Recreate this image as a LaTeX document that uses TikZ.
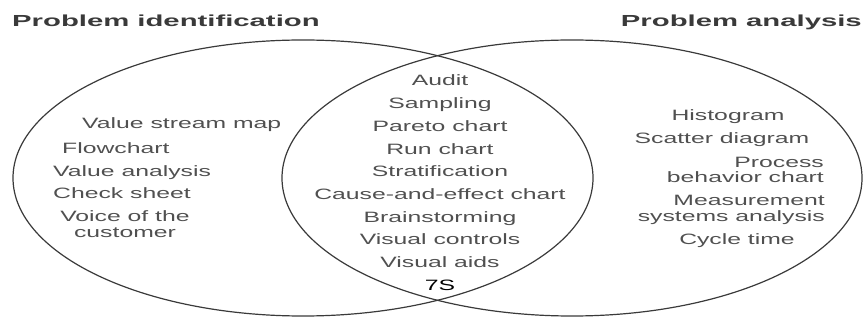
\documentclass[tikz,border=0pt]{standalone}
\usepackage{fontspec}
\usetikzlibrary{positioning}
\newfontfamily\headfont{Liberation Sans}[FakeStretch=1.83]
\newfontfamily\toolfont{Liberation Sans}[FakeStretch=1.65]
\definecolor{ink}{HTML}{3A3A3A}
\definecolor{txt}{HTML}{505050}

\begin{document}
\begin{tikzpicture}[x=1pt,y=-1pt,node distance=22.7pt]

  \tikzstyle{tool}=[text=txt,font=\toolfont\fontsize{15}{16}\selectfont,inner sep=0pt,text height=11pt,text depth=3pt]
  \tikzstyle{toolpair}=[text=txt,font=\toolfont\fontsize{15}{15.5}\selectfont,inner sep=0pt]
  \tikzstyle{head}=[text=ink,font=\headfont\bfseries\fontsize{16}{18}\selectfont,inner sep=0pt]
  \tikzstyle{set}=[draw=ink,line width=1.2pt]

  \useasboundingbox (0,0) rectangle (864,320);

  % the two sets
  \draw[set] (303,178) ellipse [x radius=290pt, y radius=138pt];
  \draw[set] (572,178) ellipse [x radius=290pt, y radius=138pt];

  \node [head,anchor=base west] (ident) at (12,27) {Problem identification};
  \node [head,anchor=base east] (anal) at (862,27) {Problem analysis};

  % identification only
  \node [tool,anchor=west] (vsm) at (82,125) {Value stream map};
  \node [tool,anchor=west] (flow) at (62,150) {Flowchart};
  \node [tool,anchor=west] (valan) at (53,173) {Value analysis};
  \node [tool,anchor=west] (check) at (53,195) {Check sheet};
  \node [toolpair,align=center] (voc) at (125,224) {Voice of the\\customer};

  % both
  \node [tool] (audit) at (440,82) {Audit};
  \node [tool] (sampling) [below of=audit] {Sampling};
  \node [tool] (pareto) [below of=sampling] {Pareto chart};
  \node [tool] (run) [below of=pareto] {Run chart};
  \node [tool] (strat) [below of=run] {Stratification};
  \node [tool] (cause) [below of=strat] {Cause-and-effect chart};
  \node [tool] (brain) [below of=cause] {Brainstorming};
  \node [tool] (vcontrols) [below of=brain] {Visual controls};
  \node [tool] (vaids) [below of=vcontrols] {Visual aids};
  \node [tool,text=black] (sevens) [below of=vaids] {7S};

  % analysis only
  \node [tool] (histo) at (728,117) {Histogram};
  \node [tool] (scatter) at (722,140) {Scatter diagram};
  \node [toolpair,align=right,anchor=east] (pbc) at (824,170) {Process\\behavior chart};
  \node [toolpair,align=right,anchor=east] (msa) at (825,210) {Measurement\\systems analysis};
  \node [tool] (cycle) at (737,240) {Cycle time};

\end{tikzpicture}
\end{document}
